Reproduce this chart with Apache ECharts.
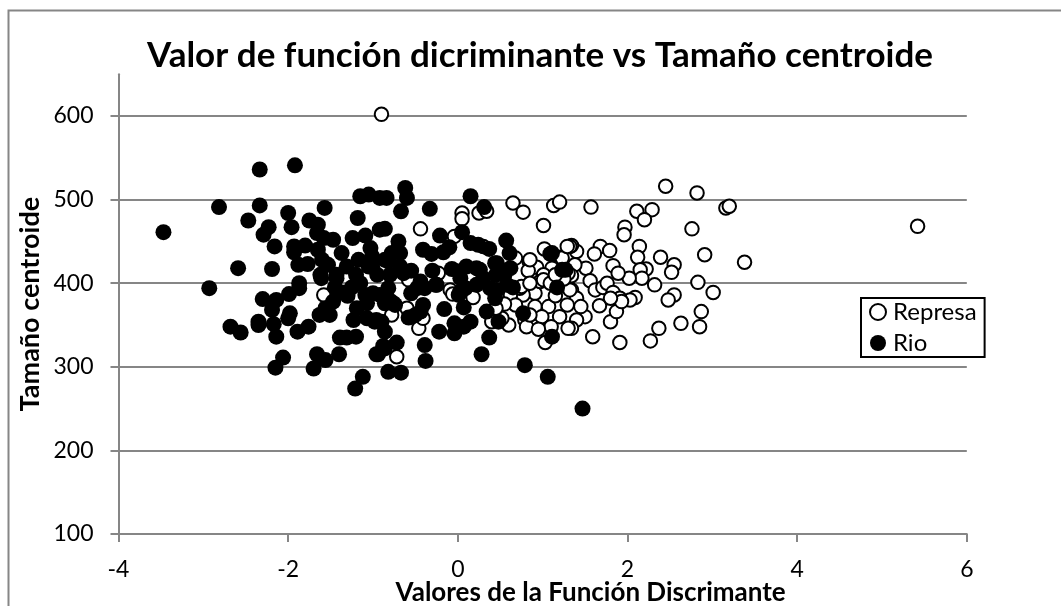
<!DOCTYPE html>
<html><head><meta charset="utf-8">
<style>html,body{margin:0;padding:0;background:#fff}#c{width:1061px;height:606px}</style>
<script src="https://cdn.jsdelivr.net/npm/echarts@6/dist/echarts.min.js"></script>
</head><body><div id="c"></div>
<script>
const chartTitle = 'Valor de función dicriminante vs Tamaño centroide';
const xTitle = 'Valores de la Función Discrimante';
const yTitle = 'Tamaño centroide';
const yTicks = [100,200,300,400,500,600];
const represaPts = [
[-0.9,602],[5.42,468],[2.45,516],[2.82,508],[1.57,491],[2.11,486],[2.29,488],[2.2,476],[3.16,490],[3.2,492],
[1.97,467],[1.96,458],[2.76,465],[2.14,444],[2.12,431],[2.39,431],[2.91,434],[3.38,425],[2.55,422],[2.52,413],
[2.22,417],[2.15,416],[2.17,406],[2.02,406],[2.32,398],[2.83,401],[3.01,389],[1.68,444],[1.61,435],[1.79,439],
[1.83,421],[1.89,412],[1.51,418],[1.4,438],[1.34,445],[1.38,422],[1.56,403],[1.34,409],[1.62,392],[1.71,395],
[1.76,400],[1.83,389],[2.55,386],[2.48,380],[2.09,383],[2.03,380],[1.91,382],[1.34,392],[1.4,382],[2.87,366],
[2.85,348],[2.63,352],[2.37,346],[2.27,331],[1.91,329],[1.59,336],[1.8,354],[1.87,366],[1.67,373],[1.5,360],
[1.45,372],[1.4,356],[1.34,346],[1.93,378],[1.8,382],[0.65,496],[0.77,485],[1.13,493],[1.2,497],[1.01,469],
[-0.44,465],[0.05,484],[0.05,477],[0.25,484],[0.34,486],[-0.04,456],[1.02,441],[1.21,431],[1.32,444],[0.84,426],
[0.93,419],[0.83,415],[1.11,418],[0.68,430],[1.01,410],[-0.23,412],[0.3,444],[-0.58,404],[0.18,383],[-0.09,392],
[0.91,388],[0.77,386],[0.73,394],[0.62,386],[0.91,372],[1.07,372],[0.99,360],[0.68,374],[0.79,356],[0.81,348],
[0.6,350],[0.52,358],[1.23,430],[1.03,329],[-0.46,346],[-0.41,358],[-0.72,312],[-0.78,362],[1.29,444],[1.3,412],
[1.32,392],[1.3,346],[1.29,374],[-1.58,386],[-0.06,387],[0.4,354],[-0.6,370],[0.75,396],[0.97,402],[0.85,428],
[1.01,404],[1.09,400],[0.55,375],[0.85,400],[1.15,385],[1.2,360],[1.1,348],[0.95,345],[0.85,362],[1.25,405],
[1.15,410],[0.45,370]
];
const rioPts = [
[-2.335,536],[-1.92,541],[-2.815,491],[-2.335,493],[-2.47,475],[-2.0,484],[-1.57,490],[-2.23,467],[-2.29,458],[-1.96,467],
[-2.16,444],[-1.75,475],[-1.65,470],[-1.15,504],[-1.05,506],[-1.18,478],[-2.59,418],[-2.19,417],[-1.93,444],[-1.93,437],
[-1.8,445],[-1.88,422],[-1.77,423],[-1.58,454],[-1.47,452],[-1.66,460],[-1.65,440],[-1.6,428],[-1.53,422],[-1.62,410],
[-1.43,410],[-1.37,436],[-1.31,420],[-1.24,454],[-1.09,457],[-1.17,428],[-1.03,442],[-1.05,420],[-1.01,432],[-0.92,464],
[-0.92,502],[-0.84,502],[-0.62,514],[-0.6,502],[-0.67,486],[-0.33,489],[0.15,504],[0.31,491],[-0.86,465],[-0.21,457],
[0.05,461],[-0.7,450],[-0.78,436],[-0.68,436],[-0.82,426],[-0.68,420],[-0.41,440],[-0.31,435],[-0.17,437],[-0.1,443],
[0.15,448],[0.24,446],[0.37,441],[0.57,451],[0.61,436],[0.44,424],[0.26,416],[0.62,418],[-0.07,417],[0.01,414],
[1.09,435],[1.27,416],[-0.44,402],[-0.8,410],[-0.64,412],[-2.93,394],[-2.3,381],[-2.14,380],[-2.19,368],[-1.99,387],
[-1.87,394],[-2.35,354],[-2.35,350],[-2.17,351],[-2.68,348],[-2.56,341],[-2.14,336],[-1.98,364],[-2.0,358],[-1.89,342],
[-1.76,348],[-2.06,311],[-2.15,299],[-1.7,298],[-1.66,315],[-1.56,308],[-1.4,315],[-1.12,288],[-1.21,274],[-1.63,362],
[-1.51,362],[-1.56,370],[-1.47,378],[-1.36,389],[-1.61,406],[-1.43,406],[-1.87,400],[-1.39,335],[-1.31,335],[-1.2,336],
[-1.23,356],[-1.19,370],[-1.07,376],[-1.09,386],[-1.0,388],[-1.07,358],[-0.98,354],[-0.94,315],[-0.82,294],[-0.67,293],
[-0.39,326],[-0.38,307],[0.28,315],[0.37,335],[0.79,302],[1.06,288],[1.11,336],[-0.22,342],[-0.16,369],[-0.04,352],
[-0.04,340],[0.07,348],[0.15,354],[0.07,371],[0.34,366],[0.48,354],[0.77,364],[1.17,395],[-0.72,329],[-0.86,322],
[-0.86,342],[-0.9,354],[-0.76,376],[-0.86,376],[-0.58,359],[-0.5,362],[-0.41,374],[-0.44,366],[-0.48,394],[-0.39,394],
[-0.26,398],[-0.82,394],[0.01,386],[0.09,394],[0.22,398],[0.44,382],[0.38,394],[0.58,398],[0.46,392],[0.22,418],
[0.46,424],[-0.25,398],[0.03,406],[0.3,406],[0.03,390],[-0.8,379],[-0.92,386],[-0.74,374],[-0.88,325],[-0.96,315],
[-0.96,356],[-1.01,420],[-0.86,428],[-0.72,438],[1.11,436],[1.23,416],[1.47,250],[-3.47,461],
[-1.25,395],[-1.15,400],[-1.3,385],[-0.55,388],[-0.3,415],[0.1,420],[0.45,410],[0.55,410],[0.65,395],[-1.45,395],
[-1.2,410],[-0.95,410],[-0.55,415]
];
const grey = '#868686';
const labelFont = 'Lato, "Open Sans", sans-serif';
const chart = echarts.init(document.getElementById('c'), null, {renderer:'canvas'});
chart.setOption({
  animation:false,
  backgroundColor:'#fff',
  textStyle:{fontFamily:labelFont},
  graphic:[{type:'rect',silent:true,z:-1,shape:{x:8.5,y:10.5,width:1200,height:800},style:{fill:'#fff',stroke:grey,lineWidth:2}}],
  title:{text:chartTitle,left:147,top:38,padding:0,textStyle:{fontFamily:labelFont,fontWeight:'bold',fontSize:35,color:'#000'}},
  grid:{left:118.5,top:74.2,width:848.3,height:459.8,containLabel:false,outerBoundsMode:'none'},
  legend:{orient:'vertical',left:861,top:298,padding:[2,8,2,8],itemGap:7,itemWidth:16,itemHeight:16,
    borderColor:'#000',borderWidth:2,backgroundColor:'#fff',borderRadius:0,z:10,
    textStyle:{fontFamily:labelFont,fontSize:24,color:'#000',padding:[0,0,0,2]},
    data:['Represa','Rio']},
  xAxis:{type:'value',min:-4,max:6,interval:2,splitLine:{show:false},
    axisLine:{onZero:false,lineStyle:{color:grey,width:2}},
    axisTick:{length:8,lineStyle:{color:grey,width:2}},
    axisLabel:{fontFamily:labelFont,fontSize:23,color:'#000',margin:24},
    name:xTitle,nameLocation:'middle',nameGap:46,nameMoveOverlap:false,
    nameTextStyle:{fontFamily:labelFont,fontWeight:'bold',fontSize:26,color:'#000',padding:[0,0,0,96]}},
  yAxis:{type:'value',min:100,max:650,
    splitLine:{show:false},
    axisLine:{onZero:false,lineStyle:{color:grey,width:2}},
    axisTick:{length:8,customValues:yTicks,lineStyle:{color:grey,width:2}},
    axisLabel:{fontFamily:labelFont,fontSize:23,color:'#000',margin:25,customValues:yTicks},
    name:yTitle,nameLocation:'middle',nameGap:75,nameMoveOverlap:false,
    nameTextStyle:{fontFamily:labelFont,fontWeight:'bold',fontSize:27,color:'#000'}},
  series:[
    {name:'Represa',type:'scatter',data:represaPts,symbol:'circle',symbolSize:13.5,z:3,
     itemStyle:{color:'#fff',borderColor:'#000',borderWidth:2,opacity:1},
     markLine:{silent:true,symbol:'none',label:{show:false},animation:false,z:1,
       lineStyle:{color:grey,width:2,type:'solid'},
       data:yTicks.slice(1).map(v=>({yAxis:v}))}},
    {name:'Rio',type:'scatter',data:rioPts,symbol:'circle',symbolSize:16,z:4,
     itemStyle:{color:'#000',opacity:1}}
  ]
});
</script></body></html>
